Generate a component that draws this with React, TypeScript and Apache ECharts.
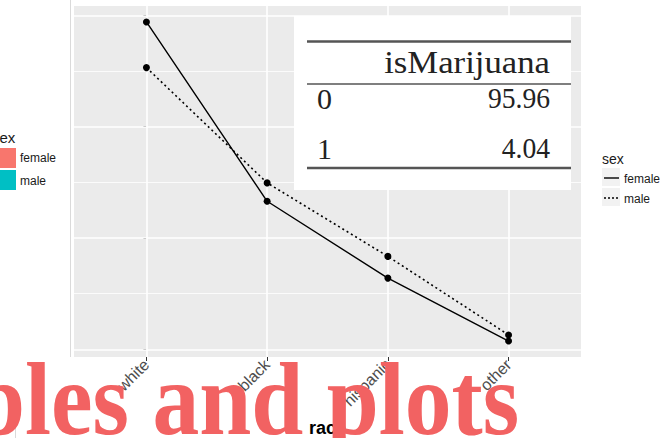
import React, { useEffect, useRef } from "react";
import * as echarts from "echarts";

const races = ["white", "black", "hispanic", "other"];
const femaleValues = [7.88, 4.66, 3.28, 2.15];
const maleValues = [7.06, 4.99, 3.67, 2.26];
const yMajorTicks = [2, 4, 6, 8];
const yMinorTicks = [3, 5, 7];
const sexLabels = ["female", "male"];
const tableHeader = "isMarijuana";
const tableRowNames = ["0", "1"];
const tableRowValues = ["95.96", "4.04"];
const overlayText = "bles and plots";

const SANS = "Liberation Sans, Arial, sans-serif";
const SERIF = "Liberation Serif, Times New Roman, serif";

export default function App() {
  const ref = useRef<HTMLDivElement>(null);

  useEffect(() => {
    if (!ref.current) return;
    const chart = echarts.init(ref.current, null, { renderer: "svg" });

    const all = [...femaleValues, ...maleValues];
    const lo = Math.min(...all);
    const hi = Math.max(...all);
    const pad = (hi - lo) * 0.05;
    const xIdx = races.map((_, i) => i);

    const gridLines = [
      ...yMajorTicks.map((v) => ({ yAxis: v, lineStyle: { color: "#ffffff", width: 1.6, type: "solid" } })),
      ...yMinorTicks.map((v) => ({ yAxis: v, lineStyle: { color: "#ffffff", width: 0.8, type: "solid" } })),
      ...xIdx.map((v) => ({ xAxis: v, lineStyle: { color: "#ffffff", width: 1.6, type: "solid" } })),
    ];

    const tableTexts: any[] = [
      {
        type: "text", x: 550, y: 63, z: 12, scaleX: 1.12,
        style: { text: tableHeader, fontFamily: SERIF, fontSize: 31, fill: "#222", textAlign: "right", textVerticalAlign: "middle" },
      },
    ];
    tableRowNames.forEach((n, i) => {
      const cy = 98 + i * 50;
      tableTexts.push({
        type: "text", x: 317, y: cy, z: 12,
        style: { text: n, fontFamily: SERIF, fontSize: 30, fill: "#222", textAlign: "left", textVerticalAlign: "middle" },
      });
      tableTexts.push({
        type: "text", x: 550, y: cy, z: 12, scaleX: 0.92,
        style: { text: tableRowValues[i], fontFamily: SERIF, fontSize: 30, fill: "#222", textAlign: "right", textVerticalAlign: "middle" },
      });
    });

    chart.setOption({
      animation: false,
      backgroundColor: "#ffffff",
      grid: {
        left: 74, right: 83, top: 6, bottom: 81,
        containLabel: false,
        outerBoundsMode: "none",
        show: true, backgroundColor: "#EBEBEB", borderWidth: 0,
      },
      xAxis: {
        type: "value",
        min: -0.6,
        max: races.length - 1 + 0.6,
        axisLine: { show: false },
        splitLine: { show: false },
        axisTick: { show: true, customValues: xIdx, length: 4, lineStyle: { color: "#333333", width: 1 } },
        axisLabel: {
          show: true,
          customValues: xIdx,
          formatter: (v: number) => races[Math.round(v)] ?? "",
          rotate: 45,
          margin: 5,
          color: "#4D4D4D",
          fontSize: 16,
          fontFamily: SANS,
        },
        name: "race",
        nameLocation: "middle",
        nameGap: 62,
        nameTextStyle: { fontWeight: "bold", fontSize: 18, color: "#000", fontFamily: SANS, verticalAlign: "top" },
      },
      yAxis: {
        type: "value",
        min: lo - pad,
        max: hi + pad,
        axisLine: { show: false },
        splitLine: { show: false },
        axisTick: { show: true, customValues: yMajorTicks, length: 3, lineStyle: { color: "#333333", width: 1 } },
        axisLabel: { show: false },
      },
      series: [
        {
          name: sexLabels[0],
          type: "line",
          data: femaleValues.map((v, i) => [i, v]),
          symbol: "circle",
          symbolSize: 7,
          itemStyle: { color: "#000" },
          lineStyle: { color: "#000", width: 1.4, type: "solid" },
          z: 3,
          markLine: {
            silent: true,
            symbol: ["none", "none"],
            label: { show: false },
            z: 1,
            data: gridLines,
          },
        },
        {
          name: sexLabels[1],
          type: "line",
          data: maleValues.map((v, i) => [i, v]),
          symbol: "circle",
          symbolSize: 7,
          itemStyle: { color: "#000" },
          lineStyle: { color: "#000", width: 1.6, type: [2, 3] },
          z: 3,
        },
      ],
      graphic: [
        { type: "line", z: 1, shape: { x1: 70.5, y1: 0, x2: 70.5, y2: 357 }, style: { stroke: "#DADADA", lineWidth: 1 } },
        { type: "line", z: 1, shape: { x1: 15.5, y1: 405, x2: 15.5, y2: 438 }, style: { stroke: "#DADADA", lineWidth: 1 } },
        // left legend (other plot)
        { type: "text", x: -8, y: 137, z: 5, style: { text: "sex", fontFamily: SANS, fontSize: 15, fill: "#1A1A1A", textVerticalAlign: "middle" } },
        { type: "rect", z: 5, shape: { x: -2, y: 148, width: 18, height: 20 }, style: { fill: "#F8766D" } },
        { type: "rect", z: 5, shape: { x: -2, y: 170, width: 18, height: 20 }, style: { fill: "#00BFC4" } },
        { type: "text", x: 20, y: 158, z: 5, style: { text: sexLabels[0], fontFamily: SANS, fontSize: 12, fill: "#1A1A1A", textVerticalAlign: "middle" } },
        { type: "text", x: 20, y: 181, z: 5, style: { text: sexLabels[1], fontFamily: SANS, fontSize: 12, fill: "#1A1A1A", textVerticalAlign: "middle" } },
        // right legend
        { type: "text", x: 602, y: 159, z: 5, style: { text: "sex", fontFamily: SANS, fontSize: 14, fill: "#1A1A1A", textVerticalAlign: "middle" } },
        { type: "rect", z: 5, shape: { x: 602, y: 168, width: 18, height: 18 }, style: { fill: "#F2F2F2" } },
        { type: "rect", z: 5, shape: { x: 602, y: 188, width: 18, height: 18 }, style: { fill: "#F2F2F2" } },
        { type: "line", z: 6, shape: { x1: 604, y1: 178, x2: 619, y2: 178 }, style: { stroke: "#000", lineWidth: 1.4 } },
        { type: "line", z: 6, shape: { x1: 604, y1: 198, x2: 619, y2: 198 }, style: { stroke: "#000", lineWidth: 1.4, lineDash: [2, 2] } },
        { type: "text", x: 624, y: 178.5, z: 5, style: { text: sexLabels[0], fontFamily: SANS, fontSize: 12, fill: "#1A1A1A", textVerticalAlign: "middle" } },
        { type: "text", x: 624, y: 199, z: 5, style: { text: sexLabels[1], fontFamily: SANS, fontSize: 12, fill: "#1A1A1A", textVerticalAlign: "middle" } },
        // table overlay
        { type: "rect", z: 10, shape: { x: 294, y: 16, width: 277, height: 174 }, style: { fill: "#ffffff" } },
        { type: "line", z: 11, shape: { x1: 307, y1: 41.5, x2: 571, y2: 41.5 }, style: { stroke: "#555", lineWidth: 2.5 } },
        { type: "line", z: 11, shape: { x1: 307, y1: 84, x2: 571, y2: 84 }, style: { stroke: "#555", lineWidth: 1.6 } },
        { type: "line", z: 11, shape: { x1: 307, y1: 168, x2: 571, y2: 168 }, style: { stroke: "#555", lineWidth: 2.5 } },
        ...tableTexts,
        // big red overlay text
        {
          type: "text", x: -27, y: 399, z: 30, scaleX: 0.9,
          style: { text: overlayText, fontFamily: SERIF, fontWeight: "bold", fontSize: 104, fill: "#F26262", textAlign: "left", textVerticalAlign: "middle" },
        },
      ],
    });

    return () => chart.dispose();
  }, []);

  return <div ref={ref} style={{ width: 664, height: 438, position: "absolute", left: 0, top: 0 }} />;
}
